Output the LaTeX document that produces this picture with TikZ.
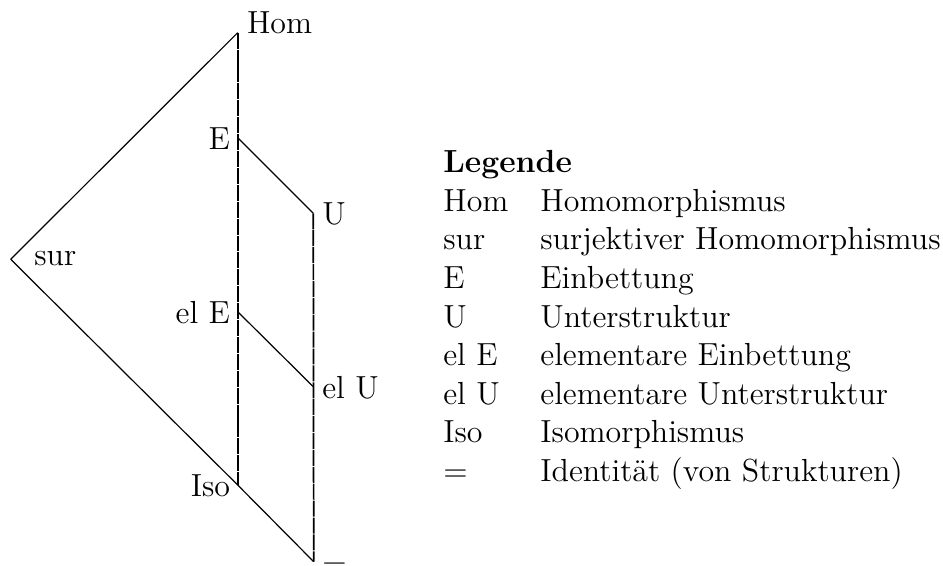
\documentclass[tikz,border=0pt]{standalone}
\begin{document}
\begin{tikzpicture}[x=0.3757pt,y=-0.3757pt,
  font=\fontsize{12}{14.5}\selectfont,
  conn/.style={line width=0.45pt},
  vline/.style={line width=0.65pt, dash pattern=on 6pt off 0.35pt},
  lbl/.style={inner sep=0pt, outer sep=0pt}]
\useasboundingbox (0,0) rectangle (943,566);
% vertices
\coordinate (hom) at (237.7,32.7);
\coordinate (sur) at (10.7,259.3);
\coordinate (e)   at (237.7,137.7);
\coordinate (u)   at (313.3,213.3);
\coordinate (ele) at (237.7,311.7);
\coordinate (elu) at (313.3,386.7);
\coordinate (iso) at (237.7,485);
\coordinate (eq)  at (313.7,561.7);
% connectors
\draw[conn] (sur) -- (hom);
\draw[conn] (sur) -- (iso) -- (eq);
\draw[conn] (e) -- (u);
\draw[conn] (ele) -- (elu);
\draw[vline] (hom) -- (iso);
\draw[vline] (u) -- (eq);
% labels
\node[lbl, anchor=base west] (homL) at (247,33.3) {Hom};
\node[lbl, anchor=base west] (surL) at (34.3,266) {sur};
\node[lbl, anchor=base east] (eL)   at (230,150) {E};
\node[lbl, anchor=base west] (uL)   at (322.3,225) {U};
\node[lbl, anchor=base east] (eleL) at (230,323.3) {el E};
\node[lbl, anchor=base west] (eluL) at (322.3,398.3) {el U};
\node[lbl, anchor=base east] (isoL) at (230,496.7) {Iso};
\node[lbl, anchor=base west] (eqL)  at (322.3,574) {$=$};
% legend
\node[lbl, anchor=base west] (legend) at (443.3,172.7) {%
  \begin{tabular}[t]{@{}ll@{}}
  \multicolumn{2}{@{}l}{\textbf{Legende}}\\
  Hom & Homomorphismus\\
  sur & surjektiver Homomorphismus\\
  E & Einbettung\\
  U & Unterstruktur\\
  el E & elementare Einbettung\\
  el U & elementare Unterstruktur\\
  Iso & Isomorphismus\\
  $=$ & Identität (von Strukturen)
  \end{tabular}};
\end{tikzpicture}
\end{document}
